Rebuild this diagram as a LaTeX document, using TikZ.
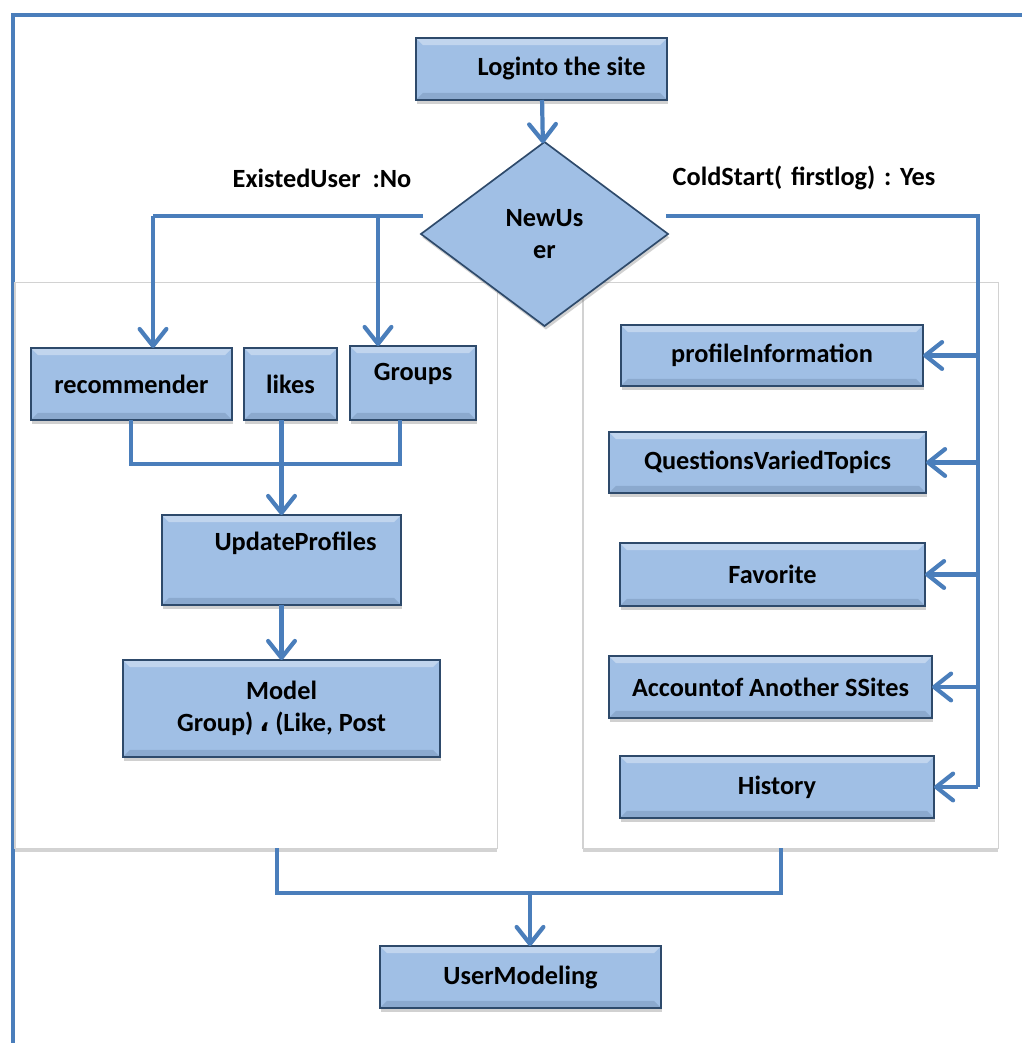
\documentclass[tikz,border=0pt]{standalone}
\usepackage{fontspec}
\setmainfont{Carlito}
\newfontfamily\arabicfont[Script=Arabic]{DejaVu Sans}
\usepackage{tikz}
\usetikzlibrary{
  shapes.geometric, arrows.meta, positioning, calc, shadows
}
\definecolor{linkblue}{HTML}{4A7EBB}
\definecolor{boxfill}{HTML}{A0BFE5}
\definecolor{boxedge}{HTML}{2E4A6B}

\begin{document}
\begin{tikzpicture}[
  x=0.025cm, y=-0.025cm,
  every node/.style={font=\fontsize{18.7}{22.5}\selectfont\bfseries, inner sep=0pt, outer sep=0pt},
  flowbox/.style={draw=boxedge, fill=boxfill, line width=1.2pt, align=center,
                  drop shadow={shadow xshift=1pt, shadow yshift=-2.5pt, opacity=0.3, fill=black!60},
                  path picture={
                    \fill[white, opacity=0.35]
                      (path picture bounding box.north west) -- (path picture bounding box.north east)
                      -- ([xshift=-5pt,yshift=-5pt]path picture bounding box.north east)
                      -- ([xshift=5pt,yshift=-5pt]path picture bounding box.north west) -- cycle;
                    \fill[boxedge, opacity=0.18]
                      (path picture bounding box.south west) -- (path picture bounding box.south east)
                      -- ([xshift=-5pt,yshift=5pt]path picture bounding box.south east)
                      -- ([xshift=5pt,yshift=5pt]path picture bounding box.south west) -- cycle;}},
  decbox/.style={diamond, draw=boxedge, fill=boxfill, line width=1.2pt, align=center,
                 drop shadow={shadow xshift=1pt, shadow yshift=-2.5pt, opacity=0.3, fill=black!60}},
  panelbox/.style={draw=gray!35, fill=white, line width=0.8pt,
                   drop shadow={shadow xshift=0pt, shadow yshift=-3pt, opacity=0.35, fill=black!50}},
  link/.style={draw=linkblue, line width=3pt},
  arr/.style={link, -{Straight Barb[length=12pt, width=19pt, round]}},
  lbl/.style={font=\fontsize{18.7}{22.5}\selectfont\bfseries}
]
\useasboundingbox (0,0) rectangle (1022,1043);

% outer frame
\draw[link, line width=3.2pt] (13,1043) -- (13,15) -- (1022,15);

% panels
\node[panelbox, minimum width=12.05cm, minimum height=14.125cm] (lpanel) at (256,565.5) {};
\node[panelbox, minimum width=10.375cm, minimum height=14.125cm] (rpanel) at (790.5,565.5) {};

% top
\node[flowbox, minimum width=6.275cm, minimum height=1.55cm] (login) at (541.5,69) {\hspace*{1cm}Loginto the site};
\node[decbox, minimum width=6.175cm, minimum height=4.6cm] (newuser) at (544.5,234) {NewUs\\er};

\node[lbl] (nolbl)  at (322,178) {ExistedUser \ :No};
\node[lbl] (yeslbl) at (804,178) {ColdStart(\,\,firstlog)\,\,:\,\,Yes};

% left side
\node[flowbox, minimum width=5.025cm, minimum height=1.8cm]  (rec)    at (131.5,384) {recommender};
\node[flowbox, minimum width=2.325cm, minimum height=1.8cm]  (likes)  at (290.5,384) {likes};
\node[flowbox, minimum width=3.15cm,  minimum height=1.85cm, text depth=16pt] (groups) at (413,383) {Groups};
\node[flowbox, minimum width=5.975cm, minimum height=2.25cm] (update) at (281.5,560) {\hspace*{20pt}UpdateProfiles\\[4pt]\mbox{}};
\node[flowbox, minimum width=7.925cm, minimum height=2.425cm] (model) at (281.5,708.5) {Model\\Group) {\arabicfont ،} (Like, Post};

% right side
\node[flowbox, minimum width=7.55cm,  minimum height=1.525cm] (profile)   at (772,355.5)  {profileInformation};
\node[flowbox, minimum width=7.925cm, minimum height=1.525cm] (questions) at (767.5,462.5) {QuestionsVariedTopics};
\node[flowbox, minimum width=7.625cm, minimum height=1.575cm] (favorite)  at (772.5,574.5) {Favorite};
\node[flowbox, minimum width=8.075cm, minimum height=1.55cm]  (account)   at (770.5,687)  {Accountof Another SSites};
\node[flowbox, minimum width=7.85cm,  minimum height=1.55cm]  (history)   at (777,787)    {History};

% bottom
\node[flowbox, minimum width=7.025cm, minimum height=1.55cm] (usermod) at (520.5,977) {UserModeling};

% joints
\coordinate (nol) at (153,216);
\coordinate (nor) at (423,216);
\coordinate (nogrp) at (378,216);
\coordinate (yesl) at (666,216);
\coordinate (yesr) at (978,216);
\coordinate (mrgl) at (131,464);
\coordinate (mrgr) at (400,464);
\coordinate (botl) at (277,893);
\coordinate (botr) at (781,893);
\coordinate (botm) at (530,893);

% connectors
\draw[arr] (login) -- (newuser);

\draw[link] (nor) -- (nol);
\draw[arr] (nol) -- (nol |- rec.north);
\draw[arr] (nogrp) -- (nogrp |- groups.north);

\draw[link] (yesl) -- (yesr) -- (yesr |- history.east);
\draw[arr] (yesr |- profile.east)   -- (profile.east);
\draw[arr] (yesr |- questions.east) -- (questions.east);
\draw[arr] (yesr |- favorite.east)  -- (favorite.east);
\draw[arr] (yesr |- account.east)   -- (account.east);
\draw[arr] (yesr |- history.east)   -- (history.east);

\draw[link] (mrgl |- rec.south) -- (mrgl) -- (mrgr) -- (mrgr |- groups.south);
\draw[arr] (update.north |- likes.south) -- (update.north);
\draw[arr] (update) -- (model);

\draw[link] (botl |- lpanel.south) -- (botl) -- (botr) -- (botr |- rpanel.south);
\draw[arr] (botm) -- (botm |- usermod.north);

\end{tikzpicture}
\end{document}
